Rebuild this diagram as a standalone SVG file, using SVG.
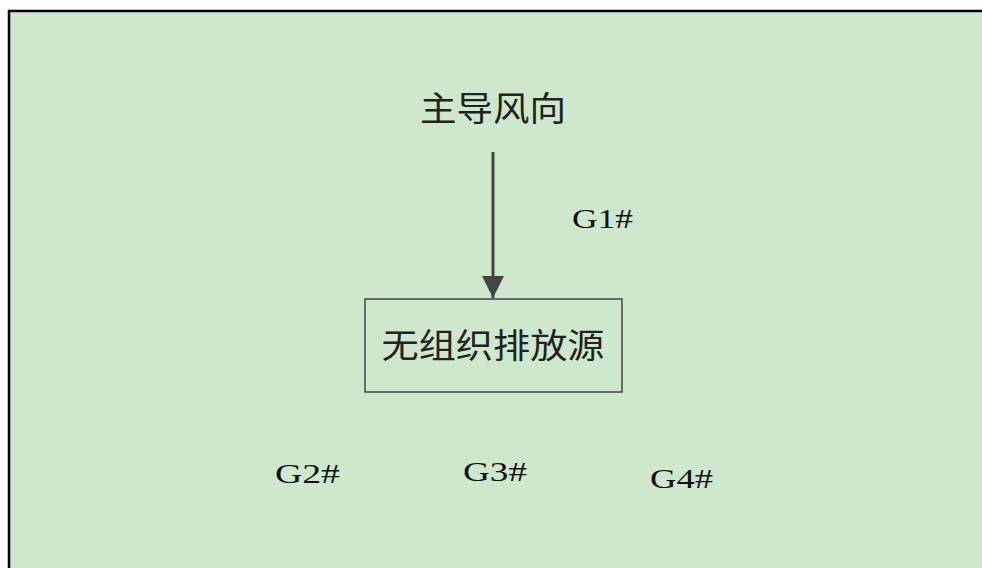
<svg xmlns="http://www.w3.org/2000/svg" width="982" height="568" viewBox="0 0 982 568">
<defs>
<style>
.cjk{font-family:"Noto Sans CJK SC","Noto Sans CJK JP",sans-serif;font-size:34px;fill:#222;text-anchor:middle}
.g{font-family:"Liberation Serif",serif;font-size:28px;fill:#111}
</style>
<marker id="ah" markerWidth="24" markerHeight="22" refX="22" refY="11" orient="auto" markerUnits="userSpaceOnUse">
<path d="M0,0 L22,11 L0,22 Z" fill="#444"/>
</marker>
</defs>
<rect x="0" y="0" width="982" height="568" fill="#ffffff"/>
<rect x="9" y="11" width="973" height="557" fill="#cfe8cd"/>
<path d="M9,568 V11 H982" fill="none" stroke="#000" stroke-width="2.5"/>
<g id="wind"><text class="cjk" x="493" y="121" textLength="146" lengthAdjust="spacingAndGlyphs">主导风向</text></g>
<g id="connectors"><line x1="493" y1="152" x2="493" y2="298" stroke="#444" stroke-width="3" marker-end="url(#ah)"/></g>
<g id="source"><rect x="365" y="299" width="257" height="93" fill="none" stroke="#444" stroke-width="1.5"/>
<text class="cjk" x="493" y="358" textLength="223" lengthAdjust="spacingAndGlyphs">无组织排放源</text></g>
<g id="G1"><text class="g" x="572" y="228" textLength="61" lengthAdjust="spacingAndGlyphs">G1#</text></g>
<g id="G2"><text class="g" x="275" y="483" textLength="65" lengthAdjust="spacingAndGlyphs">G2#</text></g>
<g id="G3"><text class="g" x="463" y="481" textLength="64" lengthAdjust="spacingAndGlyphs">G3#</text></g>
<g id="G4"><text class="g" x="650" y="488" textLength="63" lengthAdjust="spacingAndGlyphs">G4#</text></g>
</svg>
